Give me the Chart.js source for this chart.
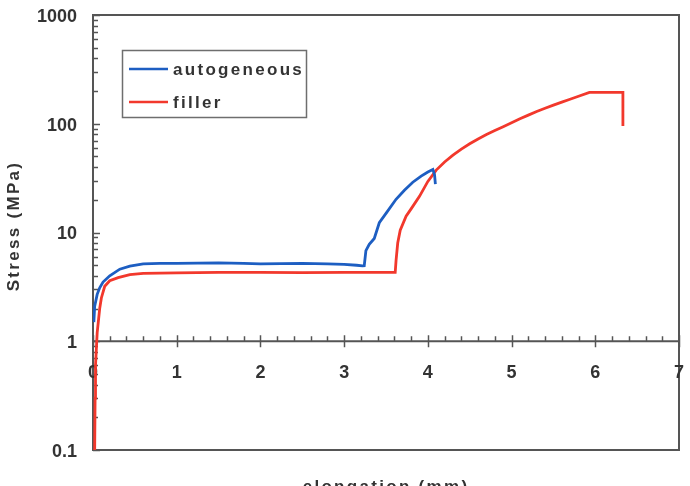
<!DOCTYPE html>
<html>
<head>
<meta charset="utf-8">
<script src="https://cdn.jsdelivr.net/npm/chart.js@4.4.0/dist/chart.umd.min.js"></script>
<style>
  body { margin: 0; background: #fff; }
  #wrap { width: 690px; height: 486px; }
</style>
</head>
<body>
<div id="wrap"><canvas id="stressChart" width="690" height="486"></canvas></div>
<script>
// elongation (mm) / stress (MPa)
const autoX = [0.01, 0.02, 0.05, 0.08, 0.12, 0.2, 0.32, 0.44, 0.6, 0.8, 1.0, 1.5, 1.8, 2.0, 2.5, 2.8, 3.0, 3.15, 3.22, 3.24, 3.26, 3.3, 3.36, 3.42, 3.5, 3.62, 3.72, 3.82, 3.92, 4.0, 4.06, 4.08, 4.09];
const autoY = [1.5, 2.1, 2.7, 3.1, 3.5, 4.0, 4.6, 4.9, 5.15, 5.2, 5.2, 5.25, 5.2, 5.15, 5.2, 5.15, 5.1, 5.0, 4.93, 4.95, 6.8, 7.8, 8.8, 12.3, 15, 20.2, 24.5, 29, 33, 36, 38, 34, 27.8];

const fillerX = [0.02, 0.025, 0.03, 0.05, 0.08, 0.1, 0.14, 0.2, 0.3, 0.44, 0.6, 1.0, 1.5, 2.0, 2.5, 3.0, 3.5, 3.61, 3.62, 3.64, 3.67, 3.74, 3.8, 3.9, 4.0, 4.1, 4.2, 4.3, 4.4, 4.5, 4.6, 4.7, 4.8, 4.9, 5.0, 5.1, 5.2, 5.3, 5.4, 5.5, 5.6, 5.69, 5.8, 5.93, 6.33, 6.33];
const fillerY = [0.1, 0.3, 0.6, 1.2, 2.0, 2.5, 3.2, 3.6, 3.85, 4.1, 4.2, 4.25, 4.3, 4.3, 4.28, 4.3, 4.29, 4.3, 5.5, 8, 10.5, 14.1, 16.5, 21.5, 29.5, 37.5, 44.5, 51.5, 58.5, 65.5, 72.5, 79.5, 86.5, 94, 102, 111, 120, 129.5, 139, 148.5, 158, 167, 179, 194, 194, 95.5];

const xTicks = [0, 1, 2, 3, 4, 5, 6, 7];
const yTicks = [0.1, 1, 10, 100, 1000];
const seriesNames = ["autogeneous", "filler"];
const seriesColors = ["#1d5ec2", "#f2382c"];

function toPoints(xs, ys) {
  return xs.map((x, i) => ({ x: x, y: ys[i] }));
}

const TICK_FONT = "bold 18px 'Liberation Sans', Arial, sans-serif";
const FONT = "bold 17px 'Liberation Sans', Arial, sans-serif";
const TEXT = "#333";
const AXIS = "#555";

// frame, ticks and labels drawn from the chart's own scales
const axesPlugin = {
  id: "axesPlugin",
  beforeDatasetsDraw(chart) {
    const ctx = chart.ctx;
    const xs = chart.scales.x;
    const ys = chart.scales.y;
    const a = chart.chartArea;
    ctx.save();
    ctx.strokeStyle = AXIS;
    ctx.lineWidth = 2;
    ctx.strokeRect(a.left, a.top, a.right - a.left, a.bottom - a.top);

    // log ticks on the left side, pointing inward
    ctx.lineWidth = 1.5;
    for (let k = -1; k <= 3; k++) {
      for (let m = 1; m <= 9; m++) {
        const v = m * Math.pow(10, k);
        if (v < 0.1 || v > 1000) continue;
        const py = Math.round(ys.getPixelForValue(v)) + 0.5;
        const len = m === 1 ? 7 : 5;
        ctx.beginPath();
        ctx.moveTo(a.left, py);
        ctx.lineTo(a.left + len, py);
        ctx.stroke();
      }
    }

    // x axis crosses at stress = 1
    const y1 = ys.getPixelForValue(1);
    ctx.lineWidth = 2;
    ctx.beginPath();
    ctx.moveTo(a.left, y1);
    ctx.lineTo(a.right, y1);
    ctx.stroke();
    ctx.lineWidth = 1.5;
    for (let i = 0; i <= 35; i++) {
      const px = Math.round(xs.getPixelForValue(i * 0.2)) + 0.5;
      ctx.beginPath();
      if (i % 5 === 0) {
        ctx.moveTo(px, y1 - 6);
        ctx.lineTo(px, y1 + 6);
      } else {
        ctx.moveTo(px, y1 - 5);
        ctx.lineTo(px, y1);
      }
      ctx.stroke();
    }

    // tick labels
    ctx.fillStyle = TEXT;
    ctx.font = TICK_FONT;
    ctx.textBaseline = "middle";
    ctx.textAlign = "right";
    yTicks.forEach((v) => {
      ctx.fillText(String(v), a.left - 16, ys.getPixelForValue(v) + 2);
    });
    ctx.textAlign = "center";
    xTicks.forEach((v) => {
      ctx.fillText(String(v), xs.getPixelForValue(v), y1 + 32);
    });

    // axis titles
    ctx.font = FONT;
    ctx.letterSpacing = "2.3px";
    ctx.textBaseline = "alphabetic";
    ctx.fillText("elongation (mm)", (a.left + a.right) / 2, 492);
    ctx.translate(19, 226);
    ctx.rotate(-Math.PI / 2);
    ctx.fillText("Stress (MPa)", 0, 0);
    ctx.restore();
  },
  afterDatasetsDraw(chart) {
    const ctx = chart.ctx;
    ctx.save();
    ctx.fillStyle = "#fff";
    ctx.fillRect(122, 50, 184, 67);
    ctx.strokeStyle = "#6e6e6e";
    ctx.lineWidth = 1.5;
    ctx.strokeRect(122.5, 50.5, 184, 67);
    const rows = [69, 102];
    ctx.font = FONT;
    ctx.letterSpacing = "2.3px";
    ctx.textAlign = "left";
    ctx.textBaseline = "middle";
    seriesNames.forEach((name, i) => {
      ctx.strokeStyle = seriesColors[i];
      ctx.lineWidth = 2.5;
      ctx.beginPath();
      ctx.moveTo(129, rows[i]);
      ctx.lineTo(168, rows[i]);
      ctx.stroke();
      ctx.fillStyle = TEXT;
      ctx.fillText(name, 173, rows[i] + 1);
    });
    ctx.restore();
  }
};

new Chart(document.getElementById("stressChart"), {
  type: "scatter",
  data: {
    datasets: [
      {
        label: seriesNames[0],
        data: toPoints(autoX, autoY),
        showLine: true,
        borderColor: seriesColors[0],
        borderWidth: 2.8,
        pointRadius: 0,
        tension: 0
      },
      {
        label: seriesNames[1],
        data: toPoints(fillerX, fillerY),
        showLine: true,
        borderColor: seriesColors[1],
        borderWidth: 2.8,
        pointRadius: 0,
        tension: 0
      }
    ]
  },
  options: {
    responsive: false,
    animation: false,
    layout: { padding: { left: 93, top: 15, right: 11, bottom: 36 } },
    plugins: {
      legend: { display: false },
      tooltip: { enabled: false }
    },
    scales: {
      x: { type: "linear", min: 0, max: 7, display: false },
      y: { type: "logarithmic", min: 0.1, max: 1000, display: false }
    }
  },
  plugins: [axesPlugin]
});
</script>
</body>
</html>
